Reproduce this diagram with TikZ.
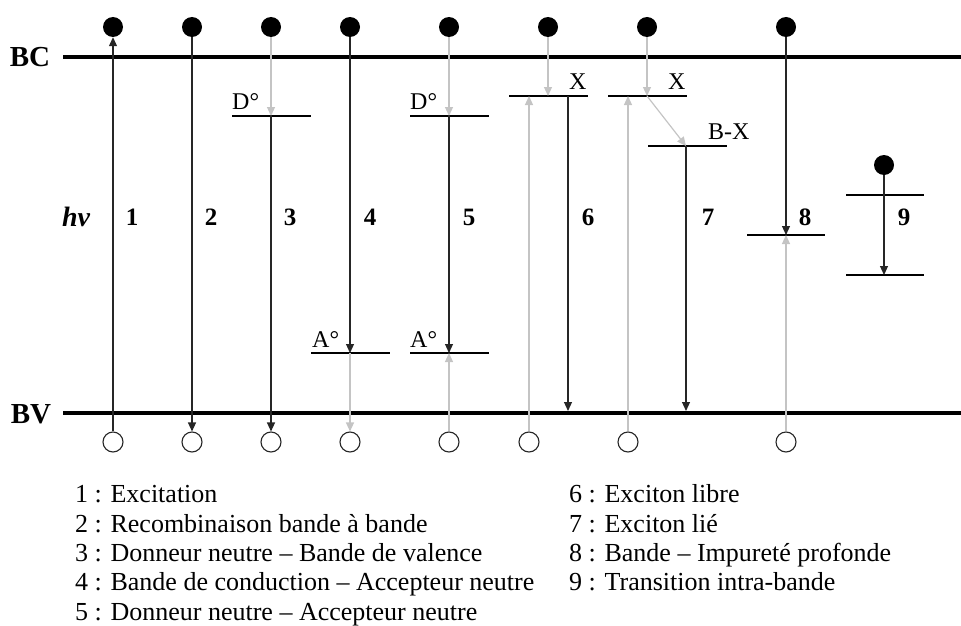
\documentclass[tikz,border=0pt]{standalone}
\usepackage{fontspec}
\setmainfont{Liberation Serif}
\usetikzlibrary{arrows.meta}
\definecolor{lgrey}{HTML}{C4C4C4}
\begin{document}
\begin{tikzpicture}[x=1pt,y=-1pt,
  band/.style={line width=3.5pt},
  lvl/.style={line width=1.7pt},
  elec/.style={circle,fill=black,minimum size=20pt,inner sep=0pt},
  hole/.style={circle,draw=black!85,line width=1.1pt,minimum size=20pt,inner sep=0pt},
  blk/.style={line width=1.2pt,draw=black!85,-{Triangle[length=9pt,width=8pt]}},
  gry/.style={line width=1.2pt,draw=lgrey,-{Triangle[length=9pt,width=8pt]}},
  bandlab/.style={font=\fontsize{29}{30}\selectfont\bfseries,inner sep=0pt},
  num/.style={font=\fontsize{25}{30}\selectfont\bfseries,inner sep=0pt},
  lab/.style={font=\fontsize{24}{28}\selectfont,anchor=base west,inner sep=0pt},
  leg/.style={font=\fontsize{26}{30}\selectfont,anchor=base west,inner sep=0pt}
]
\useasboundingbox (0,0) rectangle (961,626);

% bands
\coordinate (bcL) at (63,57); \coordinate (bcR) at (961,57);
\coordinate (bvL) at (63,413); \coordinate (bvR) at (961,413);
\draw[band] (bcL) -- (bcR);
\draw[band] (bvL) -- (bvR);
\node[bandlab] (bc) at (30,57) {BC};
\node[bandlab] (bv) at (31,414) {BV};

% levels
\coordinate (d3L) at (232,116); \coordinate (d3R) at (311,116); \coordinate (d3) at (271,116);
\coordinate (a4L) at (311,353); \coordinate (a4R) at (390,353); \coordinate (a4) at (350,353);
\coordinate (d5L) at (410,116); \coordinate (d5R) at (489,116); \coordinate (d5) at (449,116);
\coordinate (a5L) at (410,353); \coordinate (a5R) at (489,353); \coordinate (a5) at (449,353);
\coordinate (x6L) at (509,96); \coordinate (x6R) at (588,96);
\coordinate (x7L) at (608,96); \coordinate (x7R) at (687,96);
\coordinate (bx7L) at (648,146); \coordinate (bx7R) at (727,146);
\coordinate (l8L) at (747,235); \coordinate (l8R) at (825,235);
\coordinate (l9aL) at (846,195); \coordinate (l9aR) at (924,195);
\coordinate (l9bL) at (846,275); \coordinate (l9bR) at (924,275);
\draw[lvl] (d3L) -- (d3R);
\draw[lvl] (a4L) -- (a4R);
\draw[lvl] (d5L) -- (d5R);
\draw[lvl] (a5L) -- (a5R);
\draw[lvl] (x6L) -- (x6R);
\draw[lvl] (x7L) -- (x7R);
\draw[lvl] (bx7L) -- (bx7R);
\draw[lvl] (l8L) -- (l8R);
\draw[lvl] (l9aL) -- (l9aR);
\draw[lvl] (l9bL) -- (l9bR);

% level labels
\node[lab] (lD3) at (232,110) {D°};
\node[lab] (lA4) at (312,347) {A°};
\node[lab] (lD5) at (410,110) {D°};
\node[lab] (lA5) at (410,347) {A°};
\node[lab] (lX6) at (569,89) {X};
\node[lab] (lX7) at (668,89) {X};
\node[lab] (lBX) at (708,139) {B-X};

% electrons
\node[elec] (e1) at (113,27) {};
\node[elec] (e2) at (192,27) {};
\node[elec] (e3) at (271,27) {};
\node[elec] (e4) at (350,27) {};
\node[elec] (e5) at (449,27) {};
\node[elec] (e6) at (548,27) {};
\node[elec] (e7) at (647,27) {};
\node[elec] (e8) at (786,27) {};
\node[elec] (e9) at (884,165) {};

% holes
\node[hole] (h1) at (113,442) {};
\node[hole] (h2) at (192,442) {};
\node[hole] (h3) at (271,442) {};
\node[hole] (h4) at (350,442) {};
\node[hole] (h5) at (449,442) {};
\node[hole] (h6) at (529,442) {};
\node[hole] (h7) at (628,442) {};
\node[hole] (h8) at (786,442) {};

% transition points
\coordinate (x6a) at (548,96); \coordinate (x6b) at (529,96); \coordinate (x6c) at (568,96); \coordinate (v6) at (568,411);
\coordinate (x7a) at (647,96); \coordinate (x7b) at (628,96); \coordinate (bx7) at (686,146); \coordinate (v7) at (686,411);
\coordinate (l8) at (786,235); \coordinate (l9) at (884,275);

% transitions
\draw[blk] (h1) -- (e1);
\draw[blk] (e2) -- (h2);
\draw[gry] (e3) -- (d3); \draw[blk] (d3) -- (h3);
\draw[blk] (e4) -- (a4); \draw[gry] (a4) -- (h4);
\draw[gry] (e5) -- (d5); \draw[blk] (d5) -- (a5); \draw[gry] (h5) -- (a5);
\draw[gry] (e6) -- (x6a); \draw[gry] (h6) -- (x6b); \draw[blk] (x6c) -- (v6);
\draw[gry] (e7) -- (x7a); \draw[gry] (x7a) -- (bx7); \draw[blk] (bx7) -- (v7); \draw[gry] (h7) -- (x7b);
\draw[blk] (e8) -- (l8); \draw[gry] (h8) -- (l8);
\draw[blk] (e9) -- (l9);

% numbers
\node[font=\fontsize{28}{30}\selectfont\bfseries\itshape,inner sep=0pt] (hv) at (76,217) {hν};
\node[num] (n1) at (132,217) {1};
\node[num] (n2) at (211,217) {2};
\node[num] (n3) at (290,217) {3};
\node[num] (n4) at (370,217) {4};
\node[num] (n5) at (469,217) {5};
\node[num] (n6) at (588,217) {6};
\node[num] (n7) at (708,217) {7};
\node[num] (n8) at (805,217) {8};
\node[num] (n9) at (904,217) {9};

% legend
\node[leg] (g1) at (75,502) {1 : Excitation};
\node[leg] (g2) at (75,532) {2 : Recombinaison bande à bande};
\node[leg] (g3) at (75,561) {3 : Donneur neutre – Bande de valence};
\node[leg] (g4) at (75,590) {4 : Bande de conduction – Accepteur neutre};
\node[leg] (g5) at (75,620) {5 : Donneur neutre – Accepteur neutre};
\node[leg] (g6) at (569,502) {6 : Exciton libre};
\node[leg] (g7) at (569,532) {7 : Exciton lié};
\node[leg] (g8) at (569,561) {8 : Bande – Impureté profonde};
\node[leg] (g9) at (569,590) {9 : Transition intra-bande};
\end{tikzpicture}
\end{document}
